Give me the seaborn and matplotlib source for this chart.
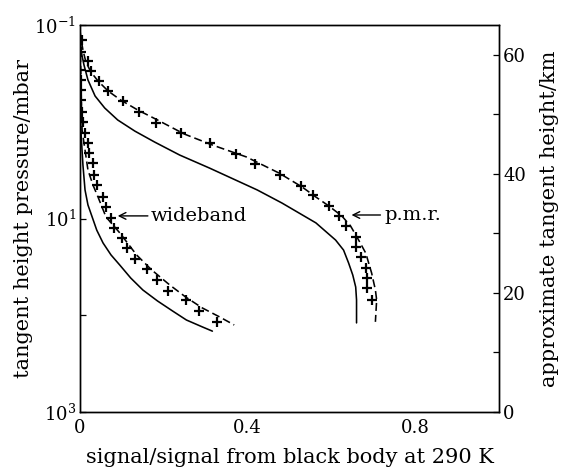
import numpy as np
import pandas as pd
import matplotlib
matplotlib.use("Agg")
import matplotlib.pyplot as plt
import seaborn as sns
from matplotlib.ticker import FixedLocator, NullFormatter, FixedFormatter

# ---- data (signal fraction vs tangent-height pressure in mbar) ----
pmr_pts_x = [0.005, 0.002, 0.019, 0.026, 0.045, 0.067, 0.102, 0.140, 0.181, 0.242,
             0.311, 0.373, 0.418, 0.477, 0.527, 0.556, 0.594, 0.618, 0.634, 0.658,
             0.658, 0.670, 0.682, 0.684, 0.686, 0.696]
pmr_pts_p = [0.143, 0.19, 0.236, 0.299, 0.379, 0.481, 0.611, 0.793, 1.03, 1.31,
             1.66, 2.15, 2.74, 3.55, 4.61, 5.71, 7.43, 9.42, 12.0, 15.5,
             19.7, 25.0, 32.5, 41.2, 52.2, 69.5]

pmr_dash_x = [0.0, 0.002, 0.007, 0.014, 0.026, 0.043, 0.067, 0.097, 0.138, 0.185,
              0.249, 0.316, 0.397, 0.475, 0.530, 0.563, 0.594, 0.625, 0.646, 0.665,
              0.682, 0.696, 0.705, 0.708, 0.705]
pmr_dash_p = [0.113, 0.136, 0.181, 0.241, 0.306, 0.379, 0.481, 0.596, 0.757, 0.959,
              1.34, 1.74, 2.31, 3.39, 4.72, 6.00, 7.43, 9.42, 12.0, 16.7,
              22.8, 36.6, 54.8, 69.5, 117]

pmr_solid_x = [0.0, 0.002, 0.0095, 0.019, 0.036, 0.059, 0.090, 0.131, 0.178, 0.238,
               0.309, 0.423, 0.482, 0.563, 0.610, 0.629, 0.641, 0.651, 0.658, 0.660,
               0.660]
pmr_solid_p = [0.113, 0.181, 0.259, 0.370, 0.542, 0.721, 0.959, 1.25, 1.62, 2.21,
               3.01, 5.07, 6.92, 11.1, 16.7, 21.2, 28.8, 38.4, 51.1, 69.5,
               120]

wb_pts_x = [0.0, 0.002, 0.002, 0.002, 0.005, 0.007, 0.012, 0.019, 0.021, 0.031,
            0.033, 0.040, 0.055, 0.062, 0.074, 0.081, 0.100, 0.112, 0.131, 0.159,
            0.183, 0.209, 0.252, 0.285, 0.328]
wb_pts_p = [0.292, 0.370, 0.470, 0.596, 0.793, 1.00, 1.31, 1.66, 2.10, 2.67,
            3.55, 4.51, 6.00, 7.60, 9.89, 12.5, 15.9, 20.2, 26.2, 33.3,
            43.3, 56.1, 69.5, 90.4, 117]

wb_dash_x = [0.0, 0.002, 0.005, 0.012, 0.019, 0.031, 0.043, 0.062, 0.095, 0.135,
             0.171, 0.214, 0.252, 0.292, 0.333, 0.368]
wb_dash_p = [0.113, 0.370, 1.22, 1.96, 3.16, 4.51, 6.00, 9.64, 14.1, 23.8,
             34.0, 48.6, 64.7, 84.1, 104, 126]

wb_solid_x = [0.0, 0.0, 0.002, 0.007, 0.012, 0.019, 0.029, 0.040, 0.055, 0.074,
              0.095, 0.121, 0.150, 0.185, 0.221, 0.254, 0.292, 0.316]
wb_solid_p = [0.113, 0.370, 1.22, 2.80, 5.07, 7.25, 9.64, 13.2, 17.9, 23.8,
              30.3, 41.2, 54.8, 71.2, 90.4, 112, 132, 146]

x_ticks = [0, 0.4, 0.8]
x_tick_labels = ["0", "0.4", "0.8"]
x_minor = [0.2, 0.6]
y_ticks = [0.1, 10, 1000]
y_tick_labels = [r"$10^{-1}$", r"$10^{1}$", r"$10^{3}$"]
y_minor = [1, 100]
km_ticks = [0, 20, 40, 60]
km_minor = [10, 30, 50]

# ---- style ----
sns.set_theme(style="white")
plt.rcParams["font.family"] = ["DejaVu Serif"]
plt.rcParams["mathtext.fontset"] = "dejavuserif"
plt.rcParams["text.color"] = "black"
plt.rcParams["axes.labelcolor"] = "black"

fig = plt.figure(figsize=(5.61, 4.74), dpi=100)
ax = fig.add_axes([80 / 561, 1 - 412 / 474, 419 / 561, 387 / 474])

def line(xs, ps, ls):
    df = pd.DataFrame({"x": xs, "p": ps})
    sns.lineplot(data=df, x="x", y="p", sort=False, estimator=None, ax=ax,
                 color="black", linewidth=1.15, linestyle=ls)

line(pmr_solid_x, pmr_solid_p, "-")
line(wb_solid_x, wb_solid_p, "-")
line(pmr_dash_x, pmr_dash_p, (0, (5, 2.5)))
line(wb_dash_x, wb_dash_p, (0, (5, 2.5)))

for xs, ps in [(pmr_pts_x, pmr_pts_p), (wb_pts_x, wb_pts_p)]:
    df = pd.DataFrame({"x": xs, "p": ps})
    sns.scatterplot(data=df, x="x", y="p", marker="+", s=45, linewidth=1.6,
                    color="black", ax=ax)

ax.set_yscale("log")
ax.set_xlim(0, 1.0)
ax.set_ylim(1000, 0.1)
ax.xaxis.set_major_locator(FixedLocator(x_ticks))
ax.xaxis.set_major_formatter(FixedFormatter(x_tick_labels))
ax.xaxis.set_minor_locator(FixedLocator(x_minor))
ax.yaxis.set_major_locator(FixedLocator(y_ticks))
ax.yaxis.set_major_formatter(FixedFormatter(y_tick_labels))
ax.yaxis.set_minor_locator(FixedLocator(y_minor))
ax.yaxis.set_minor_formatter(NullFormatter())
ax.tick_params(which="both", direction="in", length=4, width=0.9, labelsize=13,
               colors="black", pad=3)
ax.tick_params(axis="x", pad=5)
for s in ax.spines.values():
    s.set_color("black")
    s.set_linewidth(1.0)
ax.set_xlabel("signal/signal from black body at 290 K", fontsize=15, labelpad=8,
              color="black")
ax.set_ylabel("tangent height pressure/mbar", fontsize=15, labelpad=1, color="black")

ax2 = ax.twinx()
ax2.set_ylim(0, 65)
ax2.yaxis.set_major_locator(FixedLocator(km_ticks))
ax2.yaxis.set_minor_locator(FixedLocator(km_minor))
ax2.tick_params(which="both", direction="in", length=4, width=0.9, labelsize=13,
                colors="black", pad=3)
ax2.set_ylabel("approximate tangent height/km", fontsize=15, labelpad=10, color="black")
for s in ax2.spines.values():
    s.set_color("black")
    s.set_linewidth(1.0)

# annotations
ax.annotate("", xy=(0.090, 9.4), xytext=(0.162, 9.4),
            arrowprops=dict(arrowstyle="->", color="black", lw=1.0, shrinkA=0, shrinkB=0))
ax.text(0.169, 9.4, "wideband", fontsize=14, ha="left", va="center", color="black")
ax.annotate("", xy=(0.648, 9.2), xytext=(0.717, 9.2),
            arrowprops=dict(arrowstyle="->", color="black", lw=1.0, shrinkA=0, shrinkB=0))
ax.text(0.727, 9.2, "p.m.r.", fontsize=14, ha="left", va="center", color="black")

fig.savefig("out.png", dpi=100)
